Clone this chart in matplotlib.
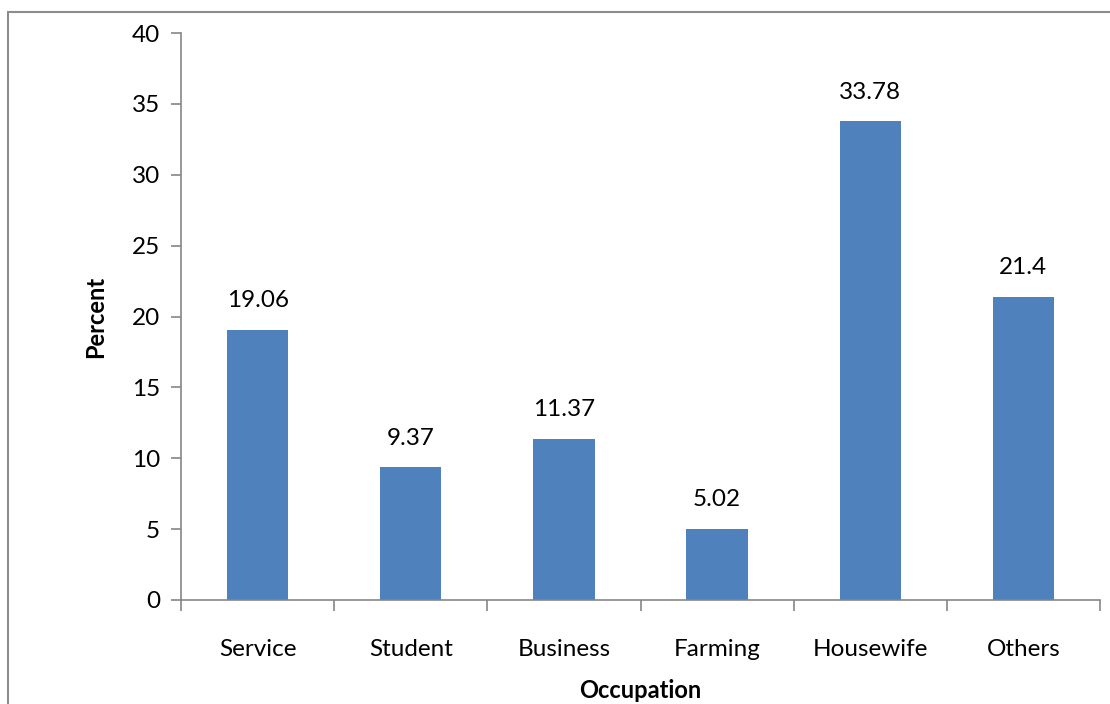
import matplotlib
matplotlib.use("Agg")
import matplotlib.pyplot as plt
from matplotlib.patches import Rectangle
import numpy as np

occupations = ["Service", "Student", "Business", "Farming", "Housewife", "Others"]
percent = [19.06, 9.37, 11.37, 5.02, 33.78, 21.4]
value_labels = ["19.06", "9.37", "11.37", "5.02", "33.78", "21.4"]
yticks = [0, 5, 10, 15, 20, 25, 30, 35, 40]

plt.rcParams['font.family'] = ['Lato', 'DejaVu Sans']

fig = plt.figure(figsize=(11.10, 7.04), dpi=100)
ax = fig.add_axes([181/1110, 1 - 600/704, (1100-181)/1110, (600-33)/704])

# light border around the chart area, as in the source image
fig.patches.append(Rectangle((8/1110, -0.1), 1.2, 1 - 12/704 + 0.1,
                             transform=fig.transFigure, fill=False,
                             edgecolor='#8c8c8c', linewidth=1.5))

x = np.arange(len(occupations))
ax.bar(x, percent, width=0.4, color='#4F81BD')
for xi, v, lab in zip(x, percent, value_labels):
    ax.text(xi, v + 1.3, lab, ha='center', va='bottom', fontsize=17.5)

ax.set_xlim(-0.5, len(occupations) - 0.5)
ax.set_ylim(0, 40)
ax.set_yticks(yticks)
ax.tick_params(axis='y', labelsize=17.5, length=7, color='#868686', width=1.2, pad=8)

ax.set_xticks(np.arange(len(occupations) + 1) - 0.5)
ax.set_xticklabels([])
ax.set_xticks(x, minor=True)
ax.set_xticklabels(occupations, minor=True, fontsize=17.5)
ax.tick_params(axis='x', which='major', length=8, color='#868686', width=1.2)
ax.tick_params(axis='x', which='minor', length=0, pad=28)

for s in ['top', 'right']:
    ax.spines[s].set_visible(False)
for s in ['left', 'bottom']:
    ax.spines[s].set_color('#868686')
    ax.spines[s].set_linewidth(1.2)

ax.set_ylabel("Percent", fontsize=17, fontweight='bold', labelpad=18)
ax.set_xlabel("Occupation", fontsize=17, fontweight='bold', labelpad=14)

fig.savefig("out.png", dpi=100)
